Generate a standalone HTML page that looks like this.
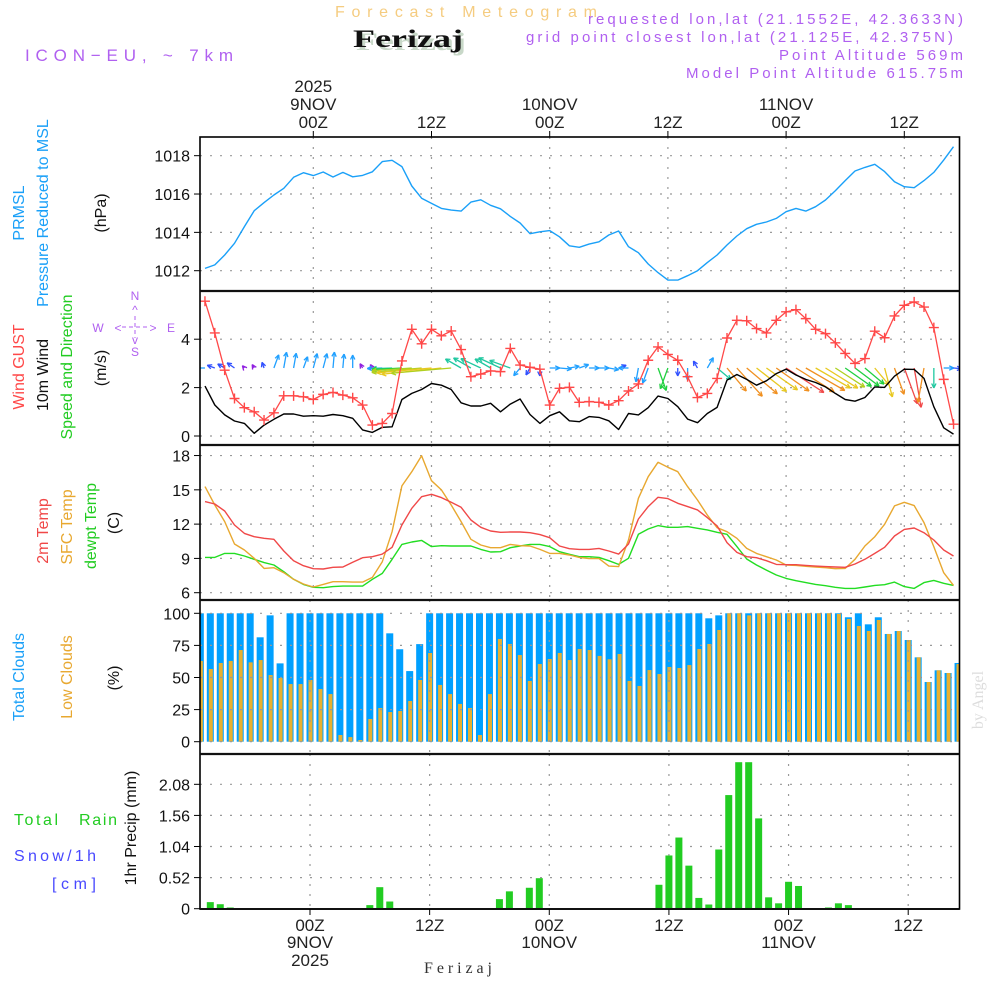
<!DOCTYPE html>
<html><head><meta charset="utf-8"><title>Forecast Meteogram Ferizaj</title>
<style>
html,body{margin:0;padding:0;background:#fff;}
svg{display:block;font-family:"Liberation Sans",sans-serif;}
</style></head>
<body>
<svg id="chart" width="1000" height="1000" viewBox="0 0 1000 1000">
<defs><clipPath id="plotclip"><rect x="200" y="137" width="759.5" height="772"/></clipPath></defs>
<rect x="0" y="0" width="1000" height="1000" fill="#fff"/>
<text x="335" y="17" font-size="16" fill="#f5cc80" textLength="262">Forecast Meteogram</text>
<text x="356" y="50" font-size="25" font-weight="bold" font-family="Liberation Serif,serif" fill="#c8d8c8" textLength="110" lengthAdjust="spacingAndGlyphs">Ferizaj</text>
<text x="353" y="47" font-size="25" font-weight="bold" font-family="Liberation Serif,serif" fill="#111" textLength="110" lengthAdjust="spacingAndGlyphs">Ferizaj</text>
<text x="25" y="61" font-size="17" fill="#b060f0" textLength="208">ICON−EU, ~ 7km</text>
<text x="963" y="24" font-size="15" fill="#b060f0" text-anchor="end" textLength="375">requested lon,lat (21.1552E, 42.3633N)</text>
<text x="953" y="42" font-size="15" fill="#b060f0" text-anchor="end" textLength="427">grid point closest lon,lat (21.125E, 42.375N)</text>
<text x="963" y="60" font-size="15" fill="#b060f0" text-anchor="end" textLength="184">Point Altitude 569m</text>
<text x="963" y="78" font-size="15" fill="#b060f0" text-anchor="end" textLength="277">Model Point Altitude 615.75m</text>
<g id="plot" clip-path="url(#plotclip)"></g>
<g id="layer"></g>
<text x="458" y="973" font-size="16" font-family="Liberation Serif,serif" fill="#333" text-anchor="middle" textLength="68">Ferizaj</text>
<text transform="translate(983,700) rotate(-90)" font-size="16" font-family="Liberation Serif,serif" fill="#ddd" text-anchor="middle">by Angel</text>
</svg>
<script>
// ---- data (hourly, from 13Z 8NOV to 17Z 11NOV) ----
const hourOffsets = [-11, 65];
const gridHours = [0, 12, 24, 36, 48, 60];
const gridLabels = ["00Z", "12Z", "00Z", "12Z", "00Z", "12Z"];
const dayLabels = ["9NOV", "", "10NOV", "", "11NOV", ""];
const yearLabels = ["2025", "", "", "", "", ""];
const pressure = [1012.12,1012.30,1012.82,1013.43,1014.30,1015.13,1015.55,1015.95,1016.30,1016.87,1017.11,1016.96,1017.15,1016.89,1017.13,1016.90,1016.97,1017.16,1017.69,1017.76,1017.43,1016.42,1015.78,1015.51,1015.25,1015.16,1015.11,1015.58,1015.70,1015.41,1015.23,1014.83,1014.49,1013.93,1014.03,1014.09,1013.77,1013.30,1013.22,1013.39,1013.51,1013.86,1014.07,1013.25,1012.94,1012.35,1011.90,1011.51,1011.51,1011.74,1012.00,1012.42,1012.82,1013.34,1013.81,1014.19,1014.42,1014.54,1014.73,1015.08,1015.25,1015.11,1015.34,1015.69,1016.17,1016.70,1017.20,1017.39,1017.55,1017.17,1016.64,1016.38,1016.33,1016.70,1017.13,1017.77,1018.47];
const pressureTicks = [1012, 1014, 1016, 1018];
const gust = [5.57,4.26,2.72,1.55,1.17,1.00,0.66,0.96,1.66,1.66,1.62,1.51,1.72,1.80,1.69,1.58,1.28,0.45,0.52,0.93,3.10,4.41,3.81,4.41,4.14,4.34,3.57,2.45,2.56,2.69,2.66,3.62,2.93,2.84,2.76,1.28,1.97,2.01,1.39,1.42,1.39,1.28,1.46,1.86,2.15,3.13,3.68,3.37,3.13,2.45,1.59,1.76,2.38,4.05,4.78,4.76,4.44,4.26,4.78,5.13,5.22,4.85,4.41,4.23,3.85,3.41,3.00,3.20,4.33,4.06,4.96,5.40,5.54,5.33,4.48,2.34,0.49];
const wind = [2.06,1.28,0.87,0.62,0.52,0.11,0.45,0.69,0.91,0.91,0.82,0.84,0.82,0.89,0.84,0.73,0.25,0.15,0.36,0.38,1.51,1.76,1.92,2.17,2.10,1.92,1.37,1.24,1.24,1.35,1.00,1.32,1.53,0.89,0.52,0.84,1.00,0.63,0.59,0.80,0.77,0.63,0.27,0.93,0.87,1.17,1.65,1.55,1.21,0.70,0.55,0.93,1.18,2.31,2.54,2.34,2.10,2.28,2.58,2.76,2.52,2.34,2.21,2.03,1.76,1.51,1.44,1.59,2.03,2.01,2.47,2.76,2.75,2.38,1.21,0.34,0.08];
const windTicks = [0, 2, 4];
// arrow screen direction in degrees (0 = pointing right, 90 = pointing down) and arrow length
const arrowDir = [180,200,210,215,230,240,250,290,280,280,290,285,285,275,275,270,240,240,178,178,177,176,175,175,174,175,210,210,205,210,205,200,130,120,90,0,5,350,340,0,0,10,340,180,100,110,70,110,90,90,240,300,40,50,48,40,38,35,35,33,32,30,30,32,33,35,37,40,50,75,70,70,80,100,90,0,5];
const arrowLen = [14,8,8,9,3,4,6,14,16,15,12,15,15,16,14,13,5,4,15,20,30,40,50,55,60,60,18,20,22,18,24,22,10,8,8,10,12,10,10,10,10,10,8,10,14,16,24,22,8,12,8,12,18,30,38,40,38,38,40,45,45,45,40,38,35,32,30,25,22,30,28,38,40,35,20,10,8];
const t2m = [13.97,13.76,13.15,11.92,11.19,10.90,10.76,10.67,9.65,8.80,8.36,8.10,8.07,8.22,8.25,8.66,9.06,9.15,9.38,9.97,11.92,13.38,14.40,14.61,14.32,13.91,13.47,12.36,11.72,11.40,11.28,11.31,11.31,11.25,11.08,10.81,10.09,9.85,9.79,9.79,9.88,9.65,9.38,10.26,12.45,13.53,14.35,14.23,13.82,13.53,13.24,12.57,11.84,10.38,9.53,9.15,9.06,8.80,8.48,8.45,8.45,8.39,8.33,8.28,8.25,8.22,8.51,8.92,9.44,9.97,10.96,11.54,11.66,11.25,10.61,9.74,9.21];
const tsfc = [15.28,13.67,12.22,10.26,9.74,9.01,8.13,8.19,7.75,7.17,6.76,6.50,6.73,6.96,6.96,6.93,6.93,7.34,8.71,11.34,15.34,16.59,17.99,15.80,14.99,13.67,12.22,10.67,10.17,9.94,9.94,10.23,10.11,10.09,9.79,9.44,9.44,9.30,9.09,8.98,8.98,8.33,8.28,10.61,14.26,16.15,17.41,16.97,16.59,15.28,14.11,12.80,11.69,11.34,10.76,9.88,9.44,9.15,8.86,8.42,8.39,8.31,8.25,8.19,8.10,8.13,8.92,10.09,10.90,11.98,13.59,13.91,13.62,12.13,10.03,7.75,6.64];
const tdew = [9.09,9.09,9.44,9.44,9.21,8.92,8.63,8.42,7.84,7.17,6.73,6.47,6.44,6.53,6.58,6.58,6.58,7.17,7.69,8.92,10.23,10.44,10.58,10.03,10.11,10.09,10.09,10.09,9.79,9.56,9.59,9.94,10.09,10.23,10.23,10.03,9.59,9.36,9.15,9.15,9.09,8.80,8.48,9.01,11.11,11.57,11.87,11.72,11.72,11.78,11.63,11.49,11.28,11.11,10.03,8.95,8.42,7.98,7.55,7.25,7.05,6.88,6.73,6.61,6.47,6.38,6.38,6.50,6.64,6.70,6.93,6.53,6.38,6.88,7.08,6.82,6.64];
const tempTicks = [6, 9, 12, 15, 18];
const totalCloud = [100,100,100,100,100,100,81.3,98.4,61,100,100,100,100,100,100,100,100,100,100,84.4,72,55,76,100,100,100,100,100,100,100,100,100,100,100,100,100,100,100,100,100,100,100,100,100,100,100,100,100,100,100,100,96.1,98.4,100,100,100,100,100,100,100,100,100,100,100,100,96.9,100,91.4,96.9,83.9,86.2,79.2,65.7,46.5,55.6,53.5,61.3];
const lowCloud = [62.9,56.6,61.3,62.9,71.4,61.8,63.6,51.9,49.6,44.9,44.9,48.1,41.0,37.1,5.2,3.6,1.3,17.7,26.2,23.1,23.9,31.7,48.1,69.1,44.2,37.1,29.4,26.2,5.2,37.1,80.0,76.1,67.5,47.3,60.5,64.4,69.1,63.6,72.2,71.4,66.8,64.2,68.3,47.3,43.4,55.8,52.7,58.2,57.4,59.7,72.2,76.1,87.0,100,100,98.4,100,100,100,100,100,100,100,100,99.5,95.6,90.1,86.2,94.8,83.9,86.2,79.2,65.7,46.5,55.6,53.5,60.5];
const cloudTicks = [0, 25, 50, 75, 100];
const precip = [0,0.11,0.075,0.02,0.005,0,0,0,0,0,0,0,0,0,0,0,0,0.06,0.36,0.12,0,0,0,0,0,0,0,0,0,0,0.16,0.29,0,0.35,0.51,0,0,0,0,0,0,0,0,0,0,0,0.40,0.89,1.19,0.72,0.18,0.07,0.99,1.90,2.45,2.45,1.51,0.19,0.09,0.45,0.38,0,0,0.02,0.09,0.06,0,0,0,0,0,0,0,0,0,0,0];
const precipTicks = [0, 0.52, 1.04, 1.56, 2.08];
const precipTickLabels = ["0", "0.52", "1.04", "1.56", "2.08"];

// ---- layout ----
const NS = "http://www.w3.org/2000/svg";
const layer = document.getElementById("layer");
const plot = document.getElementById("plot");
const L = 200, R = 959.5;
const panels = {
  p1: {top: 137, bot: 291},
  p2: {top: 291, bot: 445},
  p3: {top: 445, bot: 600},
  p4: {top: 600, bot: 754},
  p5: {top: 754, bot: 909}
};
function xTop(h) { return 313.3 + 9.85 * h; }
function xBot(h) { return 310 + 9.97 * h; }
function hourOf(i) { return hourOffsets[0] + i; }
function yP(v) { return 270.7 - (v - 1012) * 19.17; }
function yW(v) { return 436 - v * 24.2; }
function yT(v) { return 592.7 - (v - 6) * 11.43; }
function yC(v) { return 741.7 - v * 1.284; }
function yR(v) { return 908.7 - v * 59.8; }

function mk(tag, attrs, parent) {
  const e = document.createElementNS(NS, tag);
  for (const k in attrs) e.setAttribute(k, attrs[k]);
  (parent || layer).appendChild(e);
  return e;
}
function txt(s, attrs, parent) { const e = mk("text", attrs, parent); e.textContent = s; return e; }

function hgrid(ys, name) {
  ys.forEach(function (y) {
    const g = mk("line", {x1: L, x2: R, y1: y, y2: y, stroke: "#999", "stroke-width": 1.2, "stroke-dasharray": "2 8"}, plot);
    
    
  });
}
function vgrid(p, xf) {
  gridHours.forEach(function (h) {
    const g = mk("line", {x1: xf(h), x2: xf(h), y1: p.top, y2: p.bot, stroke: "#999", "stroke-width": 1.2, "stroke-dasharray": "2 8"}, plot);
    
    
  });
}
function yTicks(vals, labels, yf, name) {
  vals.forEach(function (v, k) {
    const y = yf(v);
    const t = mk("line", {x1: 194, x2: 200, y1: y, y2: y, stroke: "#000", "stroke-width": 1});
    
    
    const l = txt(labels[k], {x: 190, y: y + 6, "font-size": 16, "text-anchor": "end", fill: "#111"});
    
    
  });
}
function polyline(vals, xf, yf, color, name, width) {
  const pts = vals.map(function (v, i) { return xf(hourOf(i)).toFixed(1) + "," + yf(v).toFixed(1); }).join(" ");
  const p = mk("polyline", {points: pts, fill: "none", stroke: color, "stroke-width": width || 1.3, "stroke-linejoin": "round"}, plot);
  
  
  return p;
}
function rotLabel(s, x, y, color, name) {
  const e = txt(s, {transform: "translate(" + x + "," + y + ") rotate(-90)", "font-size": 16, fill: color, "text-anchor": "middle"});
  
  
}

// panel 1 pressure
vgrid(panels.p1, xTop);
hgrid(pressureTicks.map(yP), 'pressure-gridline');
yTicks(pressureTicks, pressureTicks.map(String), yP, 'pressure');
polyline(pressure, xTop, yP, "#1aa0f8", "pressure-line", 1.4);

// panel 2 wind
vgrid(panels.p2, xTop);
hgrid(windTicks.map(yW), 'wind-gridline');
yTicks(windTicks, windTicks.map(String), yW, 'wind');
function arrowColor(len, spd) {
  if (len < 6) return "#9020e0";
  if (len < 10) return "#3050ff";
  if (len < 17) return "#20a0ff";
  if (spd < 1.4) return "#20c8a0";
  if (spd < 1.7) return "#20d040";
  if (spd < 1.95) return "#b0d020";
  if (spd < 2.3) return "#e8c820";
  if (spd < 2.6) return "#f09020";
  return "#f04848";
}
arrowDir.forEach(function (d, i) {
  const len = arrowLen[i];
  const x0 = xTop(hourOf(i)), y0 = 368;
  const a = d * Math.PI / 180;
  const x1 = x0 + len * Math.cos(a), y1 = y0 + len * Math.sin(a);
  const c = arrowColor(len, wind[i]);
  const g = mk("g", {stroke: c, "stroke-width": 1.3, fill: "none"}, plot);
  
  
  mk("line", {x1: x0, y1: y0, x2: x1, y2: y1}, g);
  const hs = 5;
  [a + Math.PI - 0.45, a + Math.PI + 0.45].forEach(function (b) {
    mk("line", {x1: x1, y1: y1, x2: x1 + hs * Math.cos(b), y2: y1 + hs * Math.sin(b)}, g);
  });
});
polyline(wind, xTop, yW, "#000", "wind-speed-line", 1.4);
polyline(gust, xTop, yW, "#ff4848", "wind-gust-line", 1.3);
gust.forEach(function (v, i) {
  const x = xTop(hourOf(i)), y = yW(v);
  const g = mk("path", {d: "M" + (x - 5) + " " + y + "H" + (x + 5) + "M" + x + " " + (y - 5) + "V" + (y + 5), stroke: "#ff4848", "stroke-width": 1.4}, plot);
  
  
});

// panel 3 temperature
vgrid(panels.p3, xTop);
hgrid(tempTicks.map(yT), 'temp-gridline');
yTicks(tempTicks, tempTicks.map(String), yT, 'temp');
polyline(tdew, xTop, yT, "#22dd22", "dewpoint-line", 1.4);
polyline(tsfc, xTop, yT, "#e8a830", "surface-temp-line", 1.4);
polyline(t2m, xTop, yT, "#f04848", "temp-2m-line", 1.4);

// panel 4 clouds
yTicks(cloudTicks, cloudTicks.map(String), yC, 'cloud');
totalCloud.forEach(function (v, i) {
  const x = xBot(hourOf(i));
  const b = mk("rect", {x: x - 3.5, y: yC(v), width: 7, height: yC(0) - yC(v), fill: "#00a0ff"}, plot);
  
  
});
lowCloud.forEach(function (v, i) {
  const x = xBot(hourOf(i));
  const b = mk("rect", {x: x - 1.5, y: yC(v), width: 4, height: yC(0) - yC(v), fill: "#e8b030"}, plot);
  
  
});
vgrid(panels.p4, xBot);
hgrid(cloudTicks.map(yC), 'cloud-gridline');

// panel 5 precip
vgrid(panels.p5, xBot);
hgrid(precipTicks.slice(1).map(yR), 'precip-gridline');
yTicks(precipTicks, precipTickLabels, yR, 'precip');
precip.forEach(function (v, i) {
  if (v <= 0) return;
  const x = xBot(hourOf(i));
  const b = mk("rect", {x: x - 3.5, y: yR(v), width: 7, height: yR(0) - yR(v), fill: "#22cc22"}, plot);
  
  
});

// frames
const frame = mk("rect", {x: L, y: 137, width: R - L, height: 909 - 137, fill: "none", stroke: "#000", "stroke-width": 1.6});


[291, 445, 600, 754].forEach(function (y) {
  const s = mk("line", {x1: L, x2: R, y1: y, y2: y, stroke: "#111", "stroke-width": 2.2});
  
  
});
const base = mk("line", {x1: L, x2: R, y1: 909, y2: 909, stroke: "#111", "stroke-width": 2});



// time axis labels
gridHours.forEach(function (h, k) {
  const xt = xTop(h), xb = xBot(h);
  const t1 = mk("line", {x1: xt, x2: xt, y1: 131, y2: 137, stroke: "#000"});
  
  
  const t2 = mk("line", {x1: xb, x2: xb, y1: 909, y2: 915, stroke: "#000"});
  
  
  const a = txt(gridLabels[k], {x: xt, y: 128, "font-size": 17, "text-anchor": "middle", fill: "#222"});
  
  
  const b = txt(gridLabels[k], {x: xb, y: 931, "font-size": 17, "text-anchor": "middle", fill: "#222"});
  
  
  if (dayLabels[k]) {
    const c = txt(dayLabels[k], {x: xt, y: 110, "font-size": 17, "text-anchor": "middle", fill: "#222"});
    
    
    const d = txt(dayLabels[k], {x: xb, y: 948, "font-size": 17, "text-anchor": "middle", fill: "#222"});
    
    
  }
  if (yearLabels[k]) {
    const e = txt(yearLabels[k], {x: xt, y: 92, "font-size": 17, "text-anchor": "middle", fill: "#222"});
    
    
    const f = txt(yearLabels[k], {x: xb, y: 966, "font-size": 17, "text-anchor": "middle", fill: "#222"});
    
    
  }
});

// axis titles
rotLabel("PRMSL", 24, 213, "#1aa0f8", "prmsl-title");
rotLabel("Pressure Reduced to MSL", 48, 213, "#1aa0f8", "pressure-title");
rotLabel("(hPa)", 106, 213, "#111", "pressure-unit");
rotLabel("Wind GUST", 24, 367, "#ff4848", "gust-title");
rotLabel("10m Wind", 48, 375, "#111", "wind-title");
rotLabel("Speed and Direction", 72, 367, "#22cc22", "wind-direction-title");
rotLabel("(m/s)", 106, 368, "#111", "wind-unit");
rotLabel("2m Temp", 48, 531, "#f04848", "temp-2m-title");
rotLabel("SFC Temp", 72, 527, "#e8a830", "surface-temp-title");
rotLabel("dewpt Temp", 96, 526, "#22cc22", "dewpoint-title");
rotLabel("(C)", 119, 523, "#111", "temp-unit");
rotLabel("Total Clouds", 24, 677, "#1aa0f8", "total-clouds-title");
rotLabel("Low Clouds", 72, 677, "#e8a830", "low-clouds-title");
rotLabel("(%)", 119, 678, "#111", "cloud-unit");
rotLabel("1hr Precip (mm)", 136, 828, "#111", "precip-title");

// compass
const comp = mk("g", {fill: "#b060f0", "font-size": 12, "text-anchor": "middle"});


txt("N", {x: 135, y: 300}, comp);
txt("^", {x: 135, y: 314}, comp);
txt("W", {x: 98, y: 332}, comp);
txt("<", {x: 118, y: 332}, comp);
txt(">", {x: 153, y: 332}, comp);
txt("E", {x: 171, y: 332}, comp);
txt("v", {x: 135, y: 344}, comp);
txt("S", {x: 135, y: 356}, comp);
mk("line", {x1: 122, x2: 149, y1: 327, y2: 327, stroke: "#b060f0", "stroke-dasharray": "4 3"}, comp);
mk("line", {x1: 135, x2: 135, y1: 316, y2: 338, stroke: "#b060f0", "stroke-dasharray": "4 3"}, comp);

// precip legend
const r1 = txt("Total", {x: 14, y: 825, "font-size": 16, fill: "#22cc22", textLength: 44}, layer);


const r1b = txt("Rain", {x: 79, y: 825, "font-size": 16, fill: "#22cc22", textLength: 38}, layer);


const r2 = txt("Snow/1h", {x: 14, y: 861, "font-size": 16, fill: "#4848ff", textLength: 82});


const r3 = txt("[cm]", {x: 52, y: 889, "font-size": 16, fill: "#4848ff", textLength: 44});


</script>
</body></html>
